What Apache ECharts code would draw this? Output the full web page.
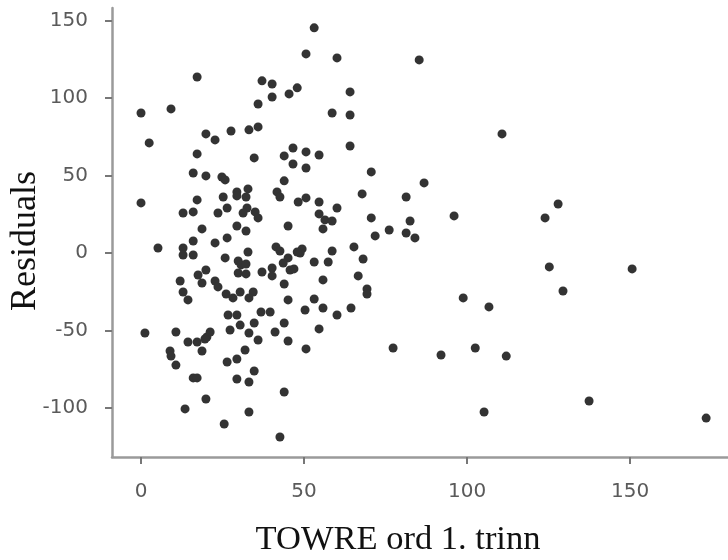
<!DOCTYPE html>
<html>
<head>
<meta charset="utf-8">
<script src="https://cdn.jsdelivr.net/npm/echarts@6/dist/echarts.min.js"></script>
<style>
html,body{margin:0;padding:0;background:#fff;}
#chart{width:728px;height:560px;}
</style>
</head>
<body>
<div id="chart"></div>
<script>
// Data
const xValues = [17.2,0,9.2,2.5,19.9,22.7,17.2,53.1,50.6,60.1,
37.1,40.2,47.9,45.4,40.2,35.9,64.1,58.6,64.1,27.6,
33.1,35.9,64.1,46.6,43.9,50.6,54.6,34.7,85.3,110.7,
70.6,86.8,67.8,81.3,70.6,82.5,96.0,123.9,127.9,76.1,
81.3,71.8,84.0,65.3,68.1,66.6,69.3,69.3,64.4,125.2,
129.4,150.6,98.8,106.7,77.3,92.0,102.5,112.0,137.4,105.2,
173.3,16.0,19.9,24.8,25.8,0,17.2,12.9,16.0,25.2,
23.6,26.4,18.7,5.2,12.9,16.0,12.9,16.0,22.7,26.4,
25.8,19.9,17.5,12.0,18.7,22.7,23.6,12.9,14.4,26.1,
26.7,46.6,50.6,43.9,41.7,42.6,48.2,50.6,54.6,60.1,
54.6,56.4,58.6,55.8,45.1,29.4,29.4,32.8,32.2,32.5,
31.3,35.0,35.9,29.4,32.2,41.4,42.6,49.4,48.8,47.9,
58.6,45.1,43.6,45.7,46.9,53.1,57.4,29.8,30.7,32.2,
32.8,29.8,32.2,37.1,40.2,40.2,55.8,43.9,30.4,34.4,
33.1,28.2,45.1,53.1,50.3,55.8,36.8,39.6,1.2,10.7,
14.4,17.2,18.7,20.2,21.2,19.6,8.9,9.2,10.7,16.0,
17.2,19.9,13.5,25.5,27.3,26.4,29.4,30.4,33.1,34.7,
35.9,43.9,41.1,45.1,50.6,54.6,60.1,31.9,29.4,34.7,
29.4,33.1,43.9,33.1,42.6];
const yValues = [113.5,90.3,92.9,71.0,76.8,72.9,63.9,145.2,128.4,125.8,
111.0,109.0,106.5,102.6,100.6,96.1,103.9,90.3,89.0,78.7,
79.4,81.3,69.0,67.7,62.6,65.2,63.2,61.3,124.5,76.8,
52.3,45.2,38.1,36.1,22.6,20.6,23.9,22.6,31.6,14.8,
12.9,11.0,9.7,3.9,-3.9,-14.8,-23.2,-26.5,-35.5,-9.0,
-24.5,-10.3,-29.0,-34.8,-61.3,-65.8,-61.3,-66.5,-95.5,-102.6,
-106.5,51.6,49.7,49.0,47.1,32.3,34.2,25.8,26.5,36.1,
25.8,29.0,15.5,3.2,3.2,7.7,-1.3,-1.3,6.5,9.7,
-3.2,-11.0,-14.2,-18.1,-19.4,-18.1,-21.9,-25.2,-30.3,-26.5,
-40.0,57.4,54.8,46.5,39.4,36.1,32.9,35.5,32.9,29.0,
25.2,21.3,20.6,15.5,17.4,39.4,36.8,41.3,36.1,29.0,
25.8,26.5,22.6,17.4,14.2,3.9,1.3,2.6,0,0.6,
1.3,-3.2,-6.5,-11.0,-10.3,-5.8,-5.8,-5.2,-7.7,-7.1,
0.6,-12.9,-13.5,-12.3,-9.7,-14.8,-17.4,-20.0,-25.2,-25.2,
-29.0,-29.0,-30.3,-29.7,-36.8,-35.5,-38.1,-38.1,-51.6,-51.0,
-57.4,-57.4,-63.2,-54.2,-51.0,-55.5,-63.2,-66.5,-72.3,-80.6,
-80.6,-94.2,-100.6,-110.3,-49.7,-70.3,-40.0,-46.5,-51.6,-45.2,
-56.1,-45.2,-51.0,-56.8,-61.9,-49.0,-40.0,-62.6,-68.4,-76.1,
-81.3,-83.2,-89.7,-102.6,-118.7];
const xTicks = [0, 50, 100, 150];
const yTicks = [-100, -50, 0, 50, 100, 150];
const xTitle = 'TOWRE ord 1. trinn';
const yTitle = 'Residuals';

const n = Math.min(xValues.length, yValues.length);
const points = [];
for (let i = 0; i < n; i++) points.push([xValues[i], yValues[i]]);

const chart = echarts.init(document.getElementById('chart'), null, {renderer: 'canvas'});
const axisCommon = {
  type: 'value',
  splitLine: {show: false},
  axisLine: {show: true, onZero: false, lineStyle: {color: '#9a9a9a', width: 2.5}},
  axisTick: {show: true, length: 7, lineStyle: {color: '#777', width: 2}},
  axisLabel: {color: '#5a5a5a', fontSize: 20, fontFamily: '"DejaVu Sans", sans-serif', margin: 24}
};
chart.setOption({
  animation: false,
  backgroundColor: '#ffffff',
  grid: {left: 112, right: 0, top: 8, bottom: 103, containLabel: false},
  xAxis: Object.assign({}, axisCommon, {
    min: -8.9, max: 180,
    axisTick: Object.assign({}, axisCommon.axisTick, {customValues: xTicks}),
    axisLabel: Object.assign({}, axisCommon.axisLabel, {customValues: xTicks, margin: 25})
  }),
  yAxis: Object.assign({}, axisCommon, {
    min: -131.6, max: 158,
    axisTick: Object.assign({}, axisCommon.axisTick, {customValues: yTicks}),
    axisLabel: Object.assign({}, axisCommon.axisLabel, {customValues: yTicks, margin: 24})
  }),
  graphic: [
    {type: 'text', x: 398, y: 540,
     style: {text: xTitle, x: 0, y: 0, align: 'center', verticalAlign: 'middle',
             font: '34.5px "Liberation Serif", "Times New Roman", serif', fill: '#111'}},
    {type: 'text', x: 26, y: 241, rotation: Math.PI / 2,
     style: {text: yTitle, x: 0, y: 0, align: 'center', verticalAlign: 'middle',
             font: '36px "Liberation Serif", "Times New Roman", serif', fill: '#111'}}
  ],
  series: [{
    type: 'scatter',
    data: points,
    symbol: 'circle',
    symbolSize: 9,
    itemStyle: {color: '#333333', opacity: 1},
    emphasis: {disabled: true}
  }]
});
</script>
</body>
</html>
